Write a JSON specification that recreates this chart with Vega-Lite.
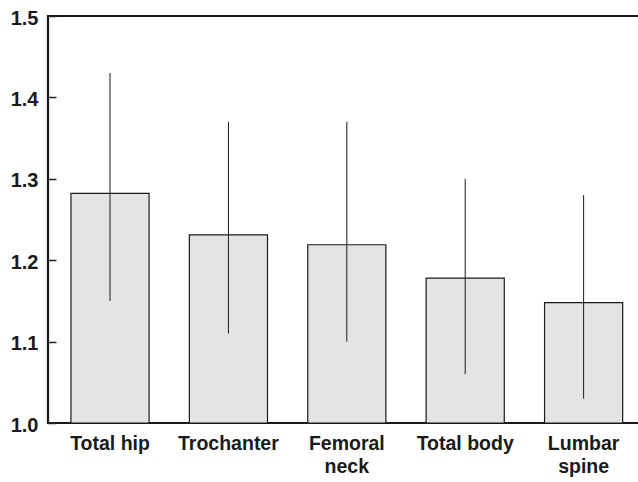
{
  "$schema": "https://vega.github.io/schema/vega-lite/v6.json",
  "width": 592,
  "height": 407,
  "autosize": {"type": "none"},
  "padding": {"left": 48, "top": 16, "right": 0, "bottom": 59},
  "background": "white",
  "config": {
    "view": {"stroke": "#1a1a1a", "strokeWidth": 2.2},
    "axis": {"labelFont": "Liberation Sans", "labelFontWeight": "bold", "labelColor": "#1a1a1a", "grid": false, "title": null}
  },
  "data": {
    "values": [
      {"site": "Total hip", "mean": 1.282, "lo": 1.15, "hi": 1.43},
      {"site": "Trochanter", "mean": 1.231, "lo": 1.11, "hi": 1.37},
      {"site": "Femoral neck", "mean": 1.219, "lo": 1.10, "hi": 1.37},
      {"site": "Total body", "mean": 1.178, "lo": 1.06, "hi": 1.30},
      {"site": "Lumbar spine", "mean": 1.148, "lo": 1.03, "hi": 1.28}
    ]
  },
  "encoding": {
    "x": {
      "field": "site", "type": "nominal", "sort": null,
      "scale": {"paddingInner": 0.34, "paddingOuter": 0.17, "align": 0.57},
      "axis": {
        "labelAngle": 0, "labelFontSize": 19.5, "labelPadding": 11, "labelLineHeight": 23,
        "ticks": false, "domain": false,
        "labelExpr": "datum.label == 'Femoral neck' || datum.label == 'Lumbar spine' ? split(datum.label, ' ') : datum.label"
      }
    }
  },
  "layer": [
    {
      "mark": {"type": "bar", "fill": "#e3e4e3", "stroke": "#1a1a1a", "strokeWidth": 1.2},
      "encoding": {
        "y": {
          "field": "mean", "type": "quantitative",
          "scale": {"domain": [1.0, 1.5], "zero": false, "nice": false},
          "axis": {
            "values": [1.0, 1.1, 1.2, 1.3, 1.4, 1.5], "format": ".1f",
            "labelFontSize": 20, "offset": -8, "ticks": true, "tickSize": 8, "tickColor": "#222222", "tickWidth": 1.5, "tickOpacity": 1,
            "labelPadding": 10, "domain": false, "labelOffset": 2, "zindex": 1
          }
        },
        "y2": {"datum": 1.0}
      }
    },
    {
      "mark": {"type": "rule", "color": "#1a1a1a", "strokeWidth": 1},
      "encoding": {
        "y": {"field": "lo", "type": "quantitative"},
        "y2": {"field": "hi"}
      }
    }
  ]
}
